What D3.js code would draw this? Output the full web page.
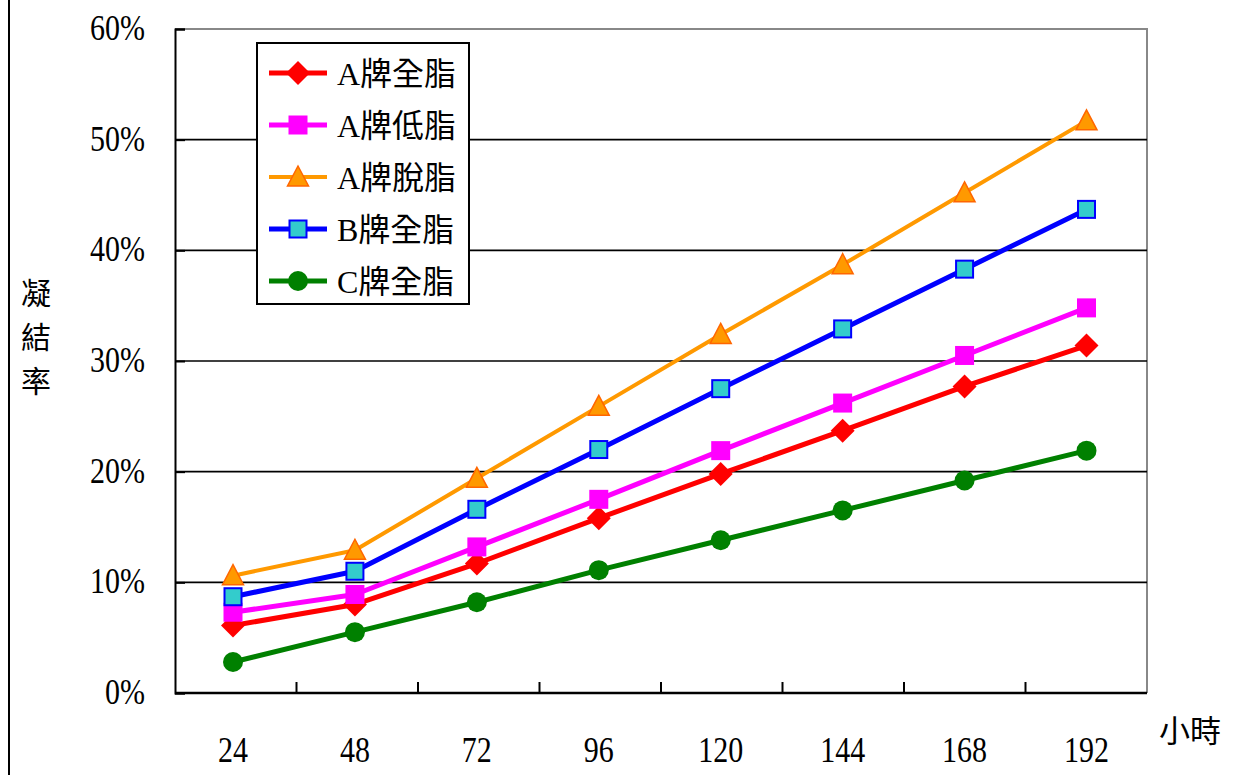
<!DOCTYPE html>
<html>
<head>
<meta charset="utf-8">
<script src="https://cdn.jsdelivr.net/npm/d3@7"></script>
<style>
  html, body { margin: 0; padding: 0; background: #fff; }
  svg { display: block; }
</style>
</head>
<body>
<svg id="chart" width="1243" height="775"></svg>
<script>
// Hours of observation
const hours = ["24", "48", "72", "96", "120", "144", "168", "192"];
// Coagulation rate (%) per product
const aWhole   = [6.1, 8.0, 11.7, 15.8, 19.8, 23.7, 27.7, 31.4];
const aLowFat  = [7.3, 8.9, 13.2, 17.5, 21.9, 26.2, 30.5, 34.8];
const aSkim    = [10.6, 12.9, 19.4, 25.9, 32.4, 38.7, 45.2, 51.7];
const bWhole   = [8.7, 11.0, 16.6, 22.0, 27.5, 32.9, 38.3, 43.7];
const cWhole   = [2.8, 5.5, 8.2, 11.1, 13.8, 16.5, 19.2, 21.9];
const yTicks   = [0, 10, 20, 30, 40, 50, 60];

const FONT = "'Liberation Serif', 'Times New Roman', 'Noto Sans CJK TC', serif";

const series = [
  { name: "A牌全脂", values: aWhole,  line: "#ff0000", fill: "#ff0000", stroke: "none",    shape: "diamond",  width: 5 },
  { name: "A牌低脂", values: aLowFat, line: "#ff00ff", fill: "#ff00ff", stroke: "none",    shape: "square",   width: 5 },
  { name: "A牌脫脂", values: aSkim,   line: "#ff9900", fill: "#ff9900", stroke: "#ff6600", shape: "triangle", width: 4 },
  { name: "B牌全脂", values: bWhole,  line: "#0000ff", fill: "#33cccc", stroke: "#0000ff", shape: "boxed",    width: 5 },
  { name: "C牌全脂", values: cWhole,  line: "#008000", fill: "#008000", stroke: "none",    shape: "circle",   width: 5 }
];

const svg = d3.select("#chart");
const plot = { left: 175, top: 29, right: 1147, bottom: 693 };

// Band scale for category separators, point scale for the marks
const x = d3.scaleBand().domain(hours).range([plot.left, plot.right]);
const xp = d3.scalePoint().domain(hours).range([233, 1086.5]);
const y = d3.scaleLinear().domain([0, 60]).range([plot.bottom, plot.top]);

// Tall, narrow numerals for the axis labels
function numLabel(sel, px, py, anchor, txt) {
  return sel.append("text")
    .attr("transform", `translate(${px},${py}) scale(1,1.2)`)
    .attr("text-anchor", anchor)
    .style("font-family", FONT).style("font-size", "30px").style("fill", "#000")
    .text(txt);
}

// Outer frame line on the left
svg.append("line").attr("x1", 9).attr("x2", 9).attr("y1", 0).attr("y2", 775)
  .attr("stroke", "#000").attr("stroke-width", 2);

// Plot frame (top and right in grey)
svg.append("path")
  .attr("d", `M${plot.left},${plot.top}H${plot.right}V${plot.bottom}`)
  .attr("fill", "none").attr("stroke", "#888").attr("stroke-width", 2);

// Horizontal gridlines
svg.append("g").selectAll("line").data(yTicks.filter(d => d > 0 && d < 60)).join("line")
  .attr("x1", plot.left).attr("x2", plot.right)
  .attr("y1", d => y(d)).attr("y2", d => y(d))
  .attr("stroke", "#000").attr("stroke-width", 1.6);

// Y axis with inward ticks
const yAxis = svg.append("g").attr("transform", `translate(${plot.left},0)`)
  .call(d3.axisRight(y).tickValues(yTicks).tickSize(10).tickFormat(""));
yAxis.select(".domain").attr("stroke", "#000").attr("stroke-width", 2);
yAxis.selectAll(".tick line").attr("stroke", "#000").attr("stroke-width", 2);
const yLabels = svg.append("g");
yTicks.forEach(t => numLabel(yLabels, 145, y(t) + 11, "end", t + "%"));

// X axis: ticks between categories, pointing inward
const xAxis = svg.append("g").attr("transform", `translate(0,${plot.bottom})`);
xAxis.append("line").attr("x1", plot.left).attr("x2", plot.right)
  .attr("y1", 0).attr("y2", 0).attr("stroke", "#000").attr("stroke-width", 2.5);
xAxis.selectAll("line.tk").data(hours.slice(1)).join("line").attr("class", "tk")
  .attr("x1", d => x(d)).attr("x2", d => x(d))
  .attr("y1", 0).attr("y2", -11).attr("stroke", "#000").attr("stroke-width", 2);
hours.forEach(h => numLabel(xAxis, xp(h), 69, "middle", h));

// Axis titles
svg.append("text").attr("x", 1190).attr("y", 742).attr("text-anchor", "middle")
  .style("font-family", FONT).style("font-size", "31px").text("小時");
const yTitle = svg.append("text").attr("text-anchor", "middle")
  .style("font-family", FONT).style("font-size", "30px");
["凝", "結", "率"].forEach((ch, i) => {
  yTitle.append("tspan").attr("x", 36).attr("y", 304 + i * 44).text(ch);
});

// Marker drawing
function drawMarker(g, s) {
  if (s.shape === "diamond") {
    g.append("path").attr("d", "M0,-12L12,0L0,12L-12,0Z").attr("fill", s.fill);
  } else if (s.shape === "square") {
    g.append("rect").attr("x", -9.5).attr("y", -9.5).attr("width", 19).attr("height", 19).attr("fill", s.fill);
  } else if (s.shape === "boxed") {
    g.append("rect").attr("x", -8.5).attr("y", -8.5).attr("width", 17).attr("height", 17)
      .attr("fill", s.fill).attr("stroke", s.stroke).attr("stroke-width", 2);
  } else if (s.shape === "triangle") {
    g.append("path").attr("d", "M0,-11L10.5,9L-10.5,9Z")
      .attr("fill", s.fill).attr("stroke", s.stroke).attr("stroke-width", 1.5);
  } else if (s.shape === "circle") {
    g.append("circle").attr("r", 10).attr("fill", s.fill);
  }
}

const line = d3.line()
  .x((d, i) => xp(hours[i]))
  .y(d => y(d));

const seriesG = svg.append("g");
series.forEach(s => {
  seriesG.append("path").datum(s.values)
    .attr("d", line).attr("fill", "none")
    .attr("stroke", s.line).attr("stroke-width", s.width).attr("stroke-linejoin", "round");
});
series.forEach(s => {
  s.values.forEach((v, i) => {
    const g = seriesG.append("g")
      .attr("transform", `translate(${xp(hours[i])},${y(v)})`);
    drawMarker(g, s);
  });
});

// Legend
const legend = svg.append("g");
legend.append("rect").attr("x", 257).attr("y", 43).attr("width", 212).attr("height", 261)
  .attr("fill", "#fff").attr("stroke", "#000").attr("stroke-width", 2);
const rowY = [73, 125, 177, 229, 281];
series.forEach((s, i) => {
  const ly = rowY[i];
  legend.append("line").attr("x1", 269).attr("x2", 327).attr("y1", ly).attr("y2", ly)
    .attr("stroke", s.line).attr("stroke-width", s.width);
  const g = legend.append("g").attr("transform", `translate(298,${ly})`);
  drawMarker(g, s);
  legend.append("text").attr("x", 337).attr("y", ly).attr("dy", "0.36em")
    .style("font-family", FONT).style("font-size", "32px").style("fill", "#000")
    .text(s.name);
});
</script>
</body>
</html>
